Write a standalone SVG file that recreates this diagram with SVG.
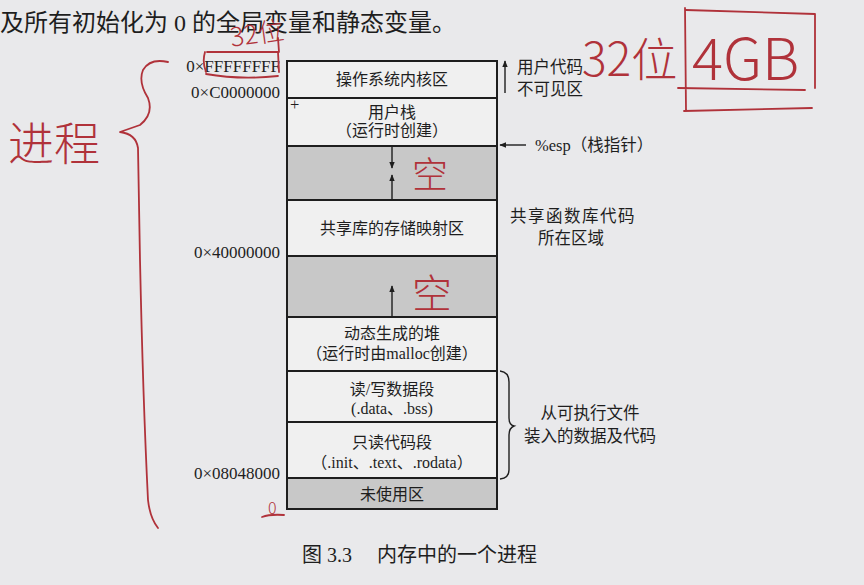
<svg xmlns="http://www.w3.org/2000/svg" width="864" height="585" viewBox="0 0 864 585">
<defs>
<style>
.bg{fill:#e9e9eb}
.row{fill:#f0f0f0;stroke:#1e1e1e;stroke-width:2}
.gray{fill:#c8c8c8;stroke:#1e1e1e;stroke-width:2}
.t{font-family:"Liberation Serif","Noto Sans CJK SC",serif;font-size:16px;fill:#1e1e1e;text-anchor:middle}
.addr{font-family:"Liberation Serif","Noto Sans CJK SC",serif;font-size:17px;fill:#1e1e1e;text-anchor:end}
.side{font-family:"Liberation Serif","Noto Sans CJK SC",serif;font-size:16.5px;fill:#1e1e1e}
.ln{stroke:#1e1e1e;stroke-width:1.4;fill:none}
.hw{font-family:"Noto Sans CJK SC",sans-serif;font-weight:300;fill:#b0323a}
.red{stroke:#b0323a;stroke-width:1.8;fill:none;stroke-linecap:round;stroke-linejoin:round}
</style>
<marker id="ah" viewBox="0 0 10 10" refX="9" refY="5" markerWidth="7" markerHeight="9" orient="auto" markerUnits="userSpaceOnUse">
<path d="M0,1 L10,5 L0,9 Z" fill="#1e1e1e"/>
</marker>
</defs>
<rect class="bg" x="0" y="0" width="864" height="585"/>
<text x="0" y="31" font-family="Liberation Serif,Noto Sans CJK SC,serif" font-size="24" fill="#1e1e1e">及所有初始化为 0 的全局变量和静态变量。</text>

<g id="kernel"><rect class="row" x="287" y="61" width="210" height="37"/><text class="t" x="392" y="85">操作系统内核区</text></g>
<g id="user-stack"><rect class="row" x="287" y="98" width="210" height="48"/><text class="t" x="392" y="118">用户栈</text><text class="t" x="392" y="136">（运行时创建）</text><text class="side" x="290" y="110" font-size="14">+</text></g>
<g id="gap1"><rect class="gray" x="287" y="146" width="210" height="54"/></g>
<g id="shared-lib"><rect class="row" x="287" y="200" width="210" height="56"/><text class="t" x="392" y="234">共享库的存储映射区</text></g>
<g id="gap2"><rect class="gray" x="287" y="256" width="210" height="61"/></g>
<g id="heap"><rect class="row" x="287" y="317" width="210" height="54"/><text class="t" x="392" y="339">动态生成的堆</text><text class="t" x="392" y="359">（运行时由malloc创建）</text></g>
<g id="rw-data"><rect class="row" x="287" y="371" width="210" height="51"/><text class="t" x="392" y="395">读/写数据段</text><text class="t" x="392" y="414">(.data、.bss)</text></g>
<g id="ro-code"><rect class="row" x="287" y="422" width="210" height="56"/><text class="t" x="392" y="448">只读代码段</text><text class="t" x="392" y="468">（.init、.text、.rodata）</text></g>
<g id="unused"><rect class="gray" x="287" y="478" width="210" height="31"/><text class="t" x="392" y="500">未使用区</text></g>

<g id="addresses">
<text class="addr" x="280" y="72">0×FFFFFFFF</text>
<text class="addr" x="280" y="98">0×C0000000</text>
<text class="addr" x="280" y="258">0×40000000</text>
<text class="addr" x="280" y="479">0×08048000</text>
</g>

<g id="connectors">
<line class="ln" x1="392" y1="146" x2="392" y2="168" marker-end="url(#ah)"/>
<line class="ln" x1="392" y1="200" x2="392" y2="175" marker-end="url(#ah)"/>
<line class="ln" x1="392" y1="317" x2="392" y2="286" marker-end="url(#ah)"/>
<line class="ln" x1="505" y1="93" x2="505" y2="61" marker-end="url(#ah)"/>
<line class="ln" x1="526" y1="145" x2="500" y2="145" marker-end="url(#ah)"/>
<path class="ln" d="M500,371 Q509,372 509,382 L509,418 Q509,425 514,426 Q509,428 509,435 L509,470 Q509,478 500,479"/>
</g>

<g id="side-labels">
<text class="side" x="517" y="73">用户代码</text>
<text class="side" x="517" y="95">不可见区</text>
<text class="side" x="535" y="151">%esp（栈指针）</text>
<text class="side" x="573" y="222" text-anchor="middle" letter-spacing="1.5">共享函数库代码</text>
<text class="side" x="571" y="244" text-anchor="middle">所在区域</text>
<text class="side" x="590" y="419" text-anchor="middle">从可执行文件</text>
<text class="side" x="590" y="442" text-anchor="middle">装入的数据及代码</text>
</g>

<text x="302" y="562" font-family="Liberation Serif,Noto Sans CJK SC,serif" font-size="20" fill="#1e1e1e">图 3.3<tspan x="377">内存中的一个进程</tspan></text>

<g id="handwriting">
<text class="hw" x="8" y="160" font-size="46">进程</text>
<path class="red" d="M168,62 Q150,58 143,70 Q138,82 148,98 Q154,114 140,125 L120,132 Q136,134 138,148 L140,260 Q143,400 148,500 Q150,518 158,528"/>
<text class="hw" x="582" y="76" font-size="46">32位</text>
<path class="red" d="M685,8 L686,110 M686,10 L815,14 L815,88 M678,88 L805,90 M684,111 L812,108"/>
<text class="hw" x="692" y="80" font-size="58">4GB</text>
<text class="hw" x="230" y="44" font-size="26" transform="rotate(-8 250 34)">32位</text>
<path class="red" d="M205,52 Q202,62 206,72 M207,52 L278,52 L279,72 M206,74 Q240,80 278,76 M279,52 L278,38"/>
<text class="hw" x="412" y="188" font-size="36">空</text>
<text class="hw" x="412" y="308" font-size="40">空</text>
<text class="hw" x="268" y="514" font-size="16">0</text>
<path class="red" d="M262,517 Q270,514 284,515"/>
</g>
</svg>
